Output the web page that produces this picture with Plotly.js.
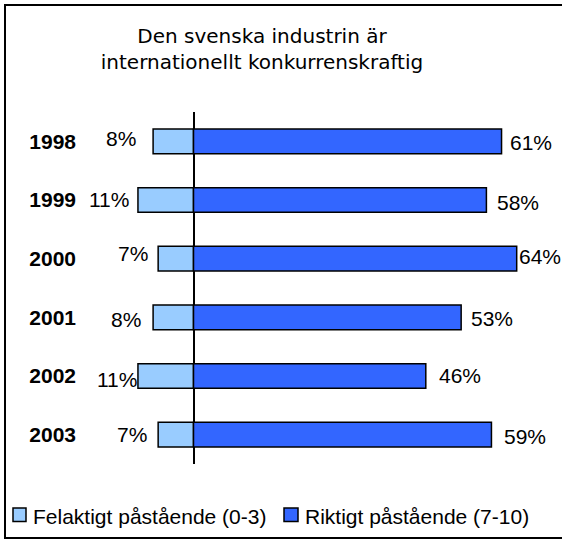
<!DOCTYPE html>
<html>
<head>
<meta charset="utf-8">
<script src="https://cdn.plot.ly/plotly-3.0.1.min.js"></script>
<style>html,body{margin:0;padding:0;background:#fff;}#chart{width:562px;height:539px;}</style>
</head>
<body>
<div id="chart"></div>
<script>
// ---- data ----
const years = ['1998', '1999', '2000', '2001', '2002', '2003'];
const felaktigt = [8, 11, 7, 8, 11, 7];
const riktigt = [61, 58, 64, 53, 46, 59];
const seriesNames = ['Felaktigt påstående (0-3)', 'Riktigt påstående (7-10)'];
const titleLines = ['Den svenska industrin är', 'internationellt konkurrenskraftig'];

// ---- styling / label nudges (pixels) ----
const colors = ['#99CCFF', '#3366FF'];
const leftShiftX = [-15, -7, -8, -10, 1, -9];
const leftShiftY = [3, 1, 5, -2, -3, 0];
const rightShiftX = [6, 9, 0, 8, 11, 11];
const rightShiftY = [-1, -2, 2, -1, 1, -2];

const W = 562, H = 539;
const M = {l: 80, r: 20, t: 112, b: 75};
const PW = W - M.l - M.r, PH = H - M.t - M.b;
const px2x = p => (p - M.l) / PW;
const px2y = p => (H - M.b - p) / PH;
const zeroPx = 193.5, pxPerPct = 5.05;
const xr = [-(zeroPx - M.l) / pxPerPct, (W - M.r - zeroPx) / pxPerPct];

const labelFont = {family: 'Liberation Sans, Arial, sans-serif', size: 21, color: '#000'};

const traces = [
  {type: 'bar', orientation: 'h', name: seriesNames[0], y: years, x: felaktigt.map(v => -v),
   width: 0.42, marker: {color: colors[0], line: {color: '#000', width: 1.5}}, showlegend: false},
  {type: 'bar', orientation: 'h', name: seriesNames[1], y: years, x: riktigt,
   width: 0.42, marker: {color: colors[1], line: {color: '#000', width: 1.5}}, showlegend: false}
];

const annotations = [];
years.forEach((yr, i) => {
  // category index used for y (numeric-looking category names)
  annotations.push({x: -felaktigt[i], y: i, xref: 'x', yref: 'y', text: felaktigt[i] + '%',
    showarrow: false, xanchor: 'right', yanchor: 'middle', xshift: leftShiftX[i], yshift: leftShiftY[i], font: labelFont});
  annotations.push({x: riktigt[i], y: i, xref: 'x', yref: 'y', text: riktigt[i] + '%',
    showarrow: false, xanchor: 'left', yanchor: 'middle', xshift: rightShiftX[i], yshift: rightShiftY[i], font: labelFont});
});

// legend (drawn manually)
const legendBoxes = [[13, 26], [284, 298]];
const legendTextX = [31, 303];
const legendFont = {family: 'Liberation Sans, Arial, sans-serif', size: 21, color: '#000'};
const shapes = [];
seriesNames.forEach((n, i) => {
  shapes.push({type: 'rect', xref: 'paper', yref: 'paper',
    x0: px2x(legendBoxes[i][0]), x1: px2x(legendBoxes[i][1]), y0: px2y(521.5), y1: px2y(508),
    fillcolor: colors[i], line: {color: '#000', width: 1.5}});
  annotations.push({xref: 'paper', yref: 'paper', x: px2x(legendTextX[i]), y: px2y(516),
    text: n, showarrow: false, xanchor: 'left', yanchor: 'middle', font: legendFont});
});
// outer frame
shapes.push({type: 'rect', xref: 'paper', yref: 'paper',
  x0: px2x(5), x1: px2x(580), y0: px2y(538), y1: px2y(5), line: {color: '#000', width: 2}, layer: 'below'});

const layout = {
  width: W, height: H,
  margin: M,
  paper_bgcolor: '#fff', plot_bgcolor: '#fff',
  barmode: 'relative',
  showlegend: false,
  title: {text: titleLines.join('<br>'), font: {family: 'DejaVu Sans, sans-serif', size: 20, color: '#000'},
    xref: 'container', x: 262 / W, xanchor: 'center', yref: 'container', y: 1 - 43 / H, yanchor: 'top'},
  xaxis: {range: xr, showticklabels: false, showgrid: false, zeroline: true, zerolinecolor: '#000', zerolinewidth: 2,
    showline: false, fixedrange: true},
  yaxis: {type: 'category', range: [5.5, -0.5], showgrid: false, zeroline: false, showline: false,
    ticks: '', ticklabelstandoff: 3,
    tickfont: {family: 'Liberation Sans, Arial, sans-serif', size: 21, color: '#000', weight: 'bold'}, fixedrange: true},
  annotations: annotations,
  shapes: shapes
};

Plotly.newPlot('chart', traces, layout, {displayModeBar: false, staticPlot: true});
</script>
</body>
</html>
